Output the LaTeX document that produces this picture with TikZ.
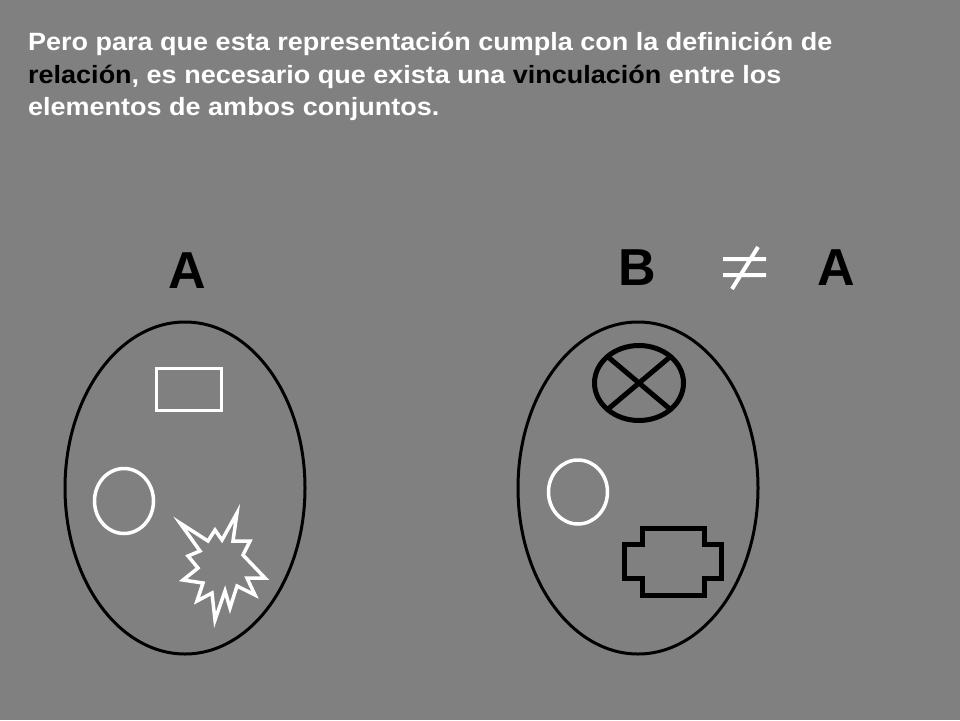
\documentclass[tikz,border=0pt]{standalone}
\usepackage{fontspec}
\setmainfont{Liberation Sans}
\newfontfamily\widefont[FakeStretch=1.08]{Liberation Sans}
\definecolor{bgray}{RGB}{128,128,128}
\begin{document}
\begin{tikzpicture}[x=1pt,y=-1pt,
  txt/.style={anchor=base west,inner sep=0pt,text=white,font=\widefont\fontsize{25}{28}\selectfont\bfseries},
  big/.style={inner sep=0pt,text=black,font=\fontsize{52}{56}\selectfont\bfseries},
  setline/.style={draw=black,line width=3pt},
  wshape/.style={draw=white,line width=3.5pt},
  bshape/.style={draw=black,line width=5pt,line join=miter}]
\fill[bgray] (0,0) rectangle (960,720);
\useasboundingbox (0,0) rectangle (960,720);
% text
\node[txt] (l1) at (28,50) {Pero para que esta representación cumpla con la definición de};
\node[txt] (l2) at (28,83) {\textcolor{black}{relación}, es necesario que exista una \textcolor{black}{vinculación} entre los};
\node[txt] (l3) at (28,115) {elementos de ambos conjuntos.};
% labels
\node[big] (labA) at (187,271) {A};
\node[big] (labB) at (637,268) {B};
\node[big] (labA2) at (836,268) {A};
% not equal sign
\coordinate (ne) at (745,267);
\draw[white,line width=4pt] (723,259) -- (766,259) (723,275) -- (766,275) (758,247) -- (732,289);
% sets
\draw[setline] (185,488) ellipse [x radius=120, y radius=166];
\draw[setline] (638,488) ellipse [x radius=120, y radius=166];
% elements of A
\draw[wshape] (156.5,368.5) rectangle (221.5,410.5);
\draw[wshape] (124,501) ellipse [x radius=29.5, y radius=32.5];
\draw[wshape,line join=miter] (180,523) -- (208,541) -- (215,530) -- (222,540) -- (237,513)
  -- (233,541) -- (250,541) -- (243,555) -- (265,578) -- (247,578) -- (255,595)
  -- (237,586) -- (230,608) -- (225,591) -- (215,620) -- (212,593) -- (197,601)
  -- (203,583) -- (183,580) -- (198,568) -- (188,556) -- (200,551) -- cycle;
% elements of B
\draw[wshape] (578,492) ellipse [x radius=29.5, y radius=32];
\draw[bshape] (639,383) ellipse [x radius=44.5, y radius=37.5];
\draw[bshape] (607.5,356.5) -- (670.5,409.5) (670.5,356.5) -- (607.5,409.5);
\draw[bshape] (642.5,528.5) -- (704.5,528.5) -- (704.5,544.5) -- (721.5,544.5) -- (721.5,578.5)
  -- (704.5,578.5) -- (704.5,595.5) -- (642.5,595.5) -- (642.5,578.5) -- (624.5,578.5)
  -- (624.5,544.5) -- (642.5,544.5) -- cycle;
\end{tikzpicture}
\end{document}
